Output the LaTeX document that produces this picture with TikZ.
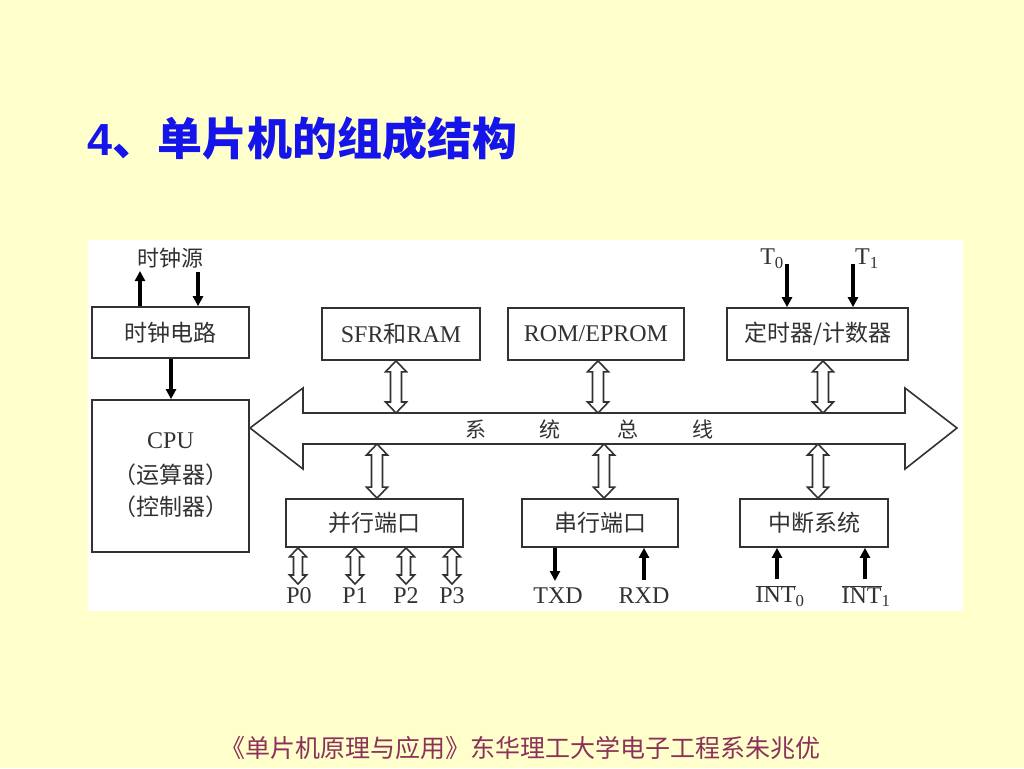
\documentclass[tikz,border=0pt]{standalone}
\usepackage{fontspec}
\setmainfont{Liberation Serif}
\newfontfamily\cjk{Noto Sans CJK SC}
\newfontfamily\titlefont{Liberation Sans}
\usetikzlibrary{arrows.meta,calc}
\definecolor{bgyellow}{RGB}{255,255,204}
\definecolor{titleblue}{RGB}{20,20,235}
\definecolor{footred}{RGB}{140,50,90}
\definecolor{inkgray}{RGB}{50,50,50}
\tikzset{
  box/.style={draw=inkgray, line width=1.7pt, fill=white, inner sep=0pt, font=\fontsize{24}{26}\selectfont, text=inkgray},
  lbl/.style={inner sep=0pt, font=\fontsize{24}{26}\selectfont, text=inkgray},
  thickarrow/.style={line width=3.4pt, draw=black, -{Triangle[length=10pt,width=10pt]}},
  hollowarrow/.style={draw=inkgray, line width=1.6pt, fill=white, line join=miter},
}
\newcommand\hdarrow[2]{%
  \draw[hollowarrow] let \p1=(#1), \p2=(#2) in
   (\x1,\y1) -- (\x1+10.5pt,\y1-11pt) -- (\x1+5.5pt,\y1-11pt) -- (\x1+5.5pt,\y2+11pt)
   -- (\x1+10.5pt,\y2+11pt) -- (\x1,\y2) -- (\x1-10.5pt,\y2+11pt) -- (\x1-5.5pt,\y2+11pt)
   -- (\x1-5.5pt,\y1-11pt) -- (\x1-10.5pt,\y1-11pt) -- cycle;}
\newcommand\smdarrow[2]{%
  \draw[hollowarrow] let \p1=(#1), \p2=(#2) in
   (\x1,\y1) -- (\x1+8.5pt,\y1-9pt) -- (\x1+4.5pt,\y1-9pt) -- (\x1+4.5pt,\y2+9pt)
   -- (\x1+8.5pt,\y2+9pt) -- (\x1,\y2) -- (\x1-8.5pt,\y2+9pt) -- (\x1-4.5pt,\y2+9pt)
   -- (\x1-4.5pt,\y1-9pt) -- (\x1-8.5pt,\y1-9pt) -- cycle;}
\begin{document}
\begin{tikzpicture}[x=1pt,y=-1pt]
\useasboundingbox (0,0) rectangle (1024,768);
\fill[bgyellow] (0,0) rectangle (1024,768);
% title
\node[anchor=west, inner sep=0pt, text=titleblue] (title) at (87,138)
  {\titlefont\bfseries\fontsize{45}{47}\selectfont 4\cjk\bfseries 、单片机的组成结构};
% footer
\node[inner sep=0pt, text=footred, font=\cjk\fontsize{25}{27}\selectfont] (footer) at (520,748)
  {《单片机原理与应用》东华理工大学电子工程系朱兆优};
% panel
\fill[white] (88,240) rectangle (963,611);

% boxes
\node[box, minimum width=157pt, minimum height=51pt] (clk) at (170.5,332.5) {\cjk\fontsize{23}{25}\selectfont 时钟电路};
\node[box, minimum width=157pt, minimum height=152pt] (cpu) at (170.5,476) {};
\node[lbl] (cpu1) at (170.5,441) {CPU};
\node[lbl, font=\cjk\fontsize{23}{25}\selectfont] (cpu2) at (170.5,475) {（运算器）};
\node[lbl, font=\cjk\fontsize{23}{25}\selectfont] (cpu3) at (170.5,507) {（控制器）};
\node[box, minimum width=158pt, minimum height=52pt] (sfr) at (401,334) {SFR{\cjk\fontsize{23}{25}\selectfont 和}RAM};
\node[box, minimum width=176pt, minimum height=52pt] (rom) at (596,334) {ROM/EPROM};
\node[box, minimum width=181pt, minimum height=52pt] (tmr) at (817.5,334) {\cjk\fontsize{23}{25}\selectfont 定时器/计数器};
\node[box, minimum width=177pt, minimum height=48pt] (par) at (374.5,523) {\cjk\fontsize{23}{25}\selectfont 并行端口};
\node[box, minimum width=156pt, minimum height=48pt] (ser) at (600,523) {\cjk\fontsize{23}{25}\selectfont 串行端口};
\node[box, minimum width=148pt, minimum height=48pt] (intr) at (814,523) {\cjk\fontsize{23}{25}\selectfont 中断系统};

% bus
\draw[draw=inkgray, line width=1.6pt, fill=white, line join=miter]
  (250,428) -- (303,388) -- (303,413) -- (905,413) -- (905,388) -- (957,428)
  -- (905,469) -- (905,444) -- (303,444) -- (303,469) -- cycle;
\node[lbl, font=\cjk\fontsize{21}{23}\selectfont] (b1) at (476,429) {系};
\node[lbl, font=\cjk\fontsize{21}{23}\selectfont] (b2) at (550,429) {统};
\node[lbl, font=\cjk\fontsize{21}{23}\selectfont] (b3) at (628,429) {总};
\node[lbl, font=\cjk\fontsize{21}{23}\selectfont] (b4) at (703,429) {线};
\coordinate (bt1) at (396,413);
\coordinate (bt2) at (598,413);
\coordinate (bt3) at (823,413);
\coordinate (bb1) at (377,444);
\coordinate (bb2) at (604,444);
\coordinate (bb3) at (818,444);

% bus connectors
\hdarrow{sfr.south -| bt1}{bt1}
\hdarrow{rom.south -| bt2}{bt2}
\hdarrow{tmr.south -| bt3}{bt3}
\hdarrow{bb1}{par.north -| bb1}
\hdarrow{bb2}{ser.north -| bb2}
\hdarrow{bb3}{intr.north -| bb3}

% clock source
\node[lbl, font=\cjk\fontsize{22}{24}\selectfont] (src) at (170,258) {时钟源};
\coordinate (srcout) at (140,271);
\coordinate (srcin) at (198,272);
\coordinate (cpuin) at (171,380);
\draw[thickarrow] (clk.north -| srcout) -- (srcout);
\draw[thickarrow] (srcin) -- (clk.north -| srcin);
\draw[thickarrow] (clk.south -| cpuin) -- (cpu.north -| cpuin);

% timers
\node[lbl, anchor=east] (t0) at (784,259) {T\textsubscript{0}};
\node[lbl, anchor=west] (t1) at (855,259) {T\textsubscript{1}};
\coordinate (t0c) at (787,264);
\coordinate (t1c) at (853,264);
\draw[thickarrow] (t0c) -- (tmr.north -| t0c);
\draw[thickarrow] (t1c) -- (tmr.north -| t1c);

% ports
\node[lbl] (p0) at (299,596) {P0};
\node[lbl] (p1) at (355,596) {P1};
\node[lbl] (p2) at (406,596) {P2};
\node[lbl] (p3) at (452,596) {P3};
\coordinate (pa0) at (298,584);
\coordinate (pa1) at (355,584);
\coordinate (pa2) at (406,584);
\coordinate (pa3) at (452,584);
\smdarrow{par.south -| pa0}{pa0}
\smdarrow{par.south -| pa1}{pa1}
\smdarrow{par.south -| pa2}{pa2}
\smdarrow{par.south -| pa3}{pa3}

% serial
\node[lbl] (txd) at (558,596) {TXD};
\node[lbl] (rxd) at (644,596) {RXD};
\coordinate (txc) at (555,581);
\coordinate (rxc) at (644,580);
\draw[thickarrow] (ser.south -| txc) -- (txc);
\draw[thickarrow] (rxc) -- (ser.south -| rxc);

% interrupts
\node[lbl] (int0) at (780,596) {$\overline{\hbox{INT}}$\textsubscript{0}};
\node[lbl] (int1) at (866,596) {$\overline{\hbox{INT}}$\textsubscript{1}};
\coordinate (i0c) at (777,579);
\coordinate (i1c) at (865,579);
\draw[thickarrow] (i0c) -- (intr.south -| i0c);
\draw[thickarrow] (i1c) -- (intr.south -| i1c);
\end{tikzpicture}
\end{document}
